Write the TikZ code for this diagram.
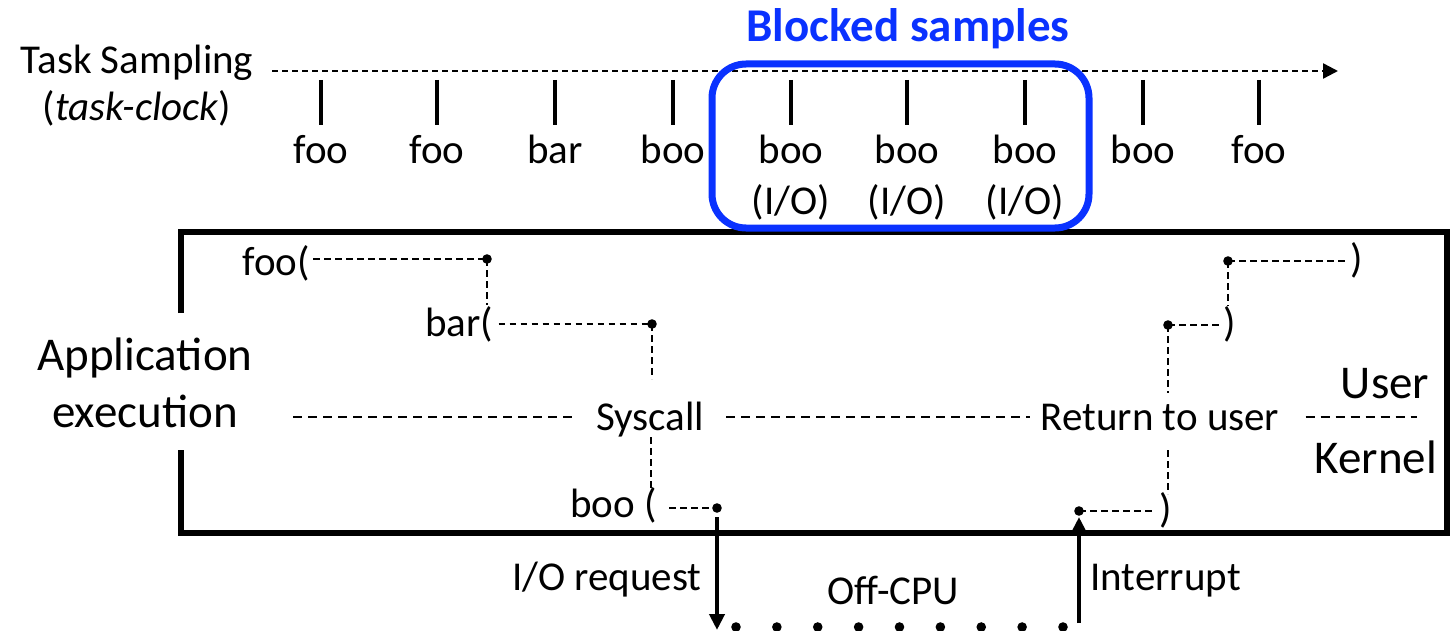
\documentclass[tikz,border=0pt]{standalone}
\usepackage{fontspec}
\setmainfont{Carlito}
\usetikzlibrary{arrows.meta}
\definecolor{blkblue}{RGB}{10,50,255}
\tikzset{
  lbl/.style={inner sep=0pt, font=\fontsize{20.5}{24}\selectfont},
  biglbl/.style={inner sep=0pt, font=\fontsize{23.5}{28}\selectfont},
  tickline/.style={line width=1.7pt},
  innerdash/.style={line width=1pt, dash pattern=on 3.3pt off 2.2pt},
  middash/.style={line width=1pt, dash pattern=on 4.5pt off 3pt},
  dotnode/.style={circle, fill=black, inner sep=0pt, minimum size=4.8pt},
  offdot/.style={circle, fill=black, inner sep=0pt, minimum size=4.8pt},
  bigarrow/.style={line width=2pt, -{Triangle[length=8pt,width=7.5pt]}},
}
\begin{document}
\begin{tikzpicture}[x=0.5pt,y=-0.5pt]
\useasboundingbox (0,0) rectangle (1452,631);

% ---------- task sampling timeline ----------
\node[lbl, anchor=base] (ts) at (137,74) {Task Sampling};
\node[lbl, anchor=base] (tc) at (137,121) {(\textit{task-clock})};
\coordinate (axs) at (272,71);
\coordinate (axe) at (1338,71);
\draw[line width=1.2pt, dash pattern=on 3pt off 2pt, -{Triangle[length=7.5pt,width=7.5pt]}] (axs) -- (axe);

\foreach \x in {321,437,555,673,791,907,1025,1143,1259}
  \draw[tickline] (\x,80) -- (\x,125);

\node[lbl, anchor=base] (s1) at (321,163) {foo};
\node[lbl, anchor=base] (s2) at (437,163) {foo};
\node[lbl, anchor=base] (s3) at (555,163) {bar};
\node[lbl, anchor=base] (s4) at (673,163) {boo};
\node[lbl, anchor=base] (s5) at (791,163) {boo};
\node[lbl, anchor=base] (s6) at (907,163) {boo};
\node[lbl, anchor=base] (s7) at (1025,163) {boo};
\node[lbl, anchor=base] (s8) at (1143,163) {boo};
\node[lbl, anchor=base] (s9) at (1259,163) {foo};
\node[lbl, anchor=base] (io5) at (791,214) {(I/O)};
\node[lbl, anchor=base] (io6) at (907,214) {(I/O)};
\node[lbl, anchor=base] (io7) at (1025,214) {(I/O)};

% ---------- application box ----------
\draw[line width=2.6pt, line join=miter]
  (181,313) -- (181,232) -- (1447,232) -- (1447,533) -- (181,533) -- (181,450);

% ---------- blocked samples ----------
\draw[blkblue, line width=3.5pt, rounded corners=17pt] (712,64) rectangle (1089,228);
\node[inner sep=0pt, anchor=base, text=blkblue, font=\bfseries\fontsize{23.5}{28}\selectfont] (bs) at (908,42) {Blocked samples};

% ---------- labels inside ----------
\node[biglbl, anchor=base] (app1) at (145,370) {Application};
\node[biglbl, anchor=base] (app2) at (145,427) {execution};
\node[biglbl, anchor=base] (usr) at (1385,398) {User};
\node[biglbl, anchor=base] (krn) at (1376,473) {Kernel};

\node[lbl, anchor=base] (sys) at (650,430) {Syscall};
\node[lbl, anchor=base] (ret) at (1160,430) {Return to user};
\coordinate (hl) at (293,417);
\coordinate (hr) at (1417,417);
\draw[middash] (hl) -- ([xshift=-10pt]sys.west |- hl);
\draw[middash] ([xshift=11pt]sys.east |- hl) -- ([xshift=-5pt]ret.west |- hl);
\draw[middash] ([xshift=13pt]ret.east |- hl) -- (hr);

% call stack, entering
\node[lbl, anchor=base west] (cfoo) at (242,275) {foo(};
\node[lbl, anchor=base west] (cbar) at (425,336) {bar(};
\node[lbl, anchor=base west] (cboo) at (570,517) {boo (};
\node[dotnode] (d1) at (487,259) {};
\node[dotnode] (d2) at (652,324) {};
\node[dotnode] (d3) at (717,508) {};
\coordinate (v1) at (487,305);
\coordinate (v2a) at (652,379);
\coordinate (v2b) at (651,437);
\coordinate (v2c) at (651,488);

\draw[innerdash] ([xshift=1.5pt]cfoo.east |- d1) -- (d1.center);
\draw[innerdash] (d1.center) -- (v1);
\draw[innerdash] ([xshift=2.5pt]cbar.east |- d2) -- (d2.center);
\draw[innerdash] (d2.center) -- (v2a);
\draw[innerdash] (v2b) -- (v2c);
\draw[innerdash] ([xshift=6pt]cboo.east |- d3) -- (d3.center);

% call stack, returning
\node[lbl, anchor=base] (r1) at (1357,272) {)};
\node[lbl, anchor=base] (r2) at (1230,336) {)};
\node[lbl, anchor=base] (r3) at (1166,522) {)};
\node[dotnode] (d6) at (1228,261) {};
\node[dotnode] (d5) at (1168,325) {};
\node[dotnode] (d4) at (1079,511) {};
\coordinate (w6) at (1228,306);
\coordinate (w5a) at (1168,393);
\coordinate (w5b) at (1168,450);
\coordinate (w5c) at (1168,494);

\draw[innerdash] (d6.center) -- ([xshift=-2pt]r1.west |- d6);
\draw[innerdash] (d6.center) -- (w6);
\draw[innerdash] (d5.center) -- ([xshift=-2pt]r2.west |- d5);
\draw[innerdash] (d5.center) -- (w5a);
\draw[innerdash] (w5b) -- (w5c);
\draw[innerdash] (d4.center) -- ([xshift=-2pt]r3.west |- d4);

% ---------- off-CPU ----------
\coordinate (ioS) at (717,517);
\coordinate (ioE) at (717,630);
\coordinate (irS) at (1079,623);
\coordinate (irE) at (1079,517);
\draw[bigarrow] (ioS) -- (ioE);
\draw[bigarrow] (irS) -- (irE);
\node[lbl, anchor=base east] (ior) at (702,590) {I/O request};
\node[lbl, anchor=base west] (irq) at (1090,590) {Interrupt};
\node[lbl, anchor=base] (off) at (893,604) {Off-CPU};
\foreach \i in {0,...,8}
  \node[offdot] (od\i) at ({736+\i*40.875},627) {};
\end{tikzpicture}
\end{document}
